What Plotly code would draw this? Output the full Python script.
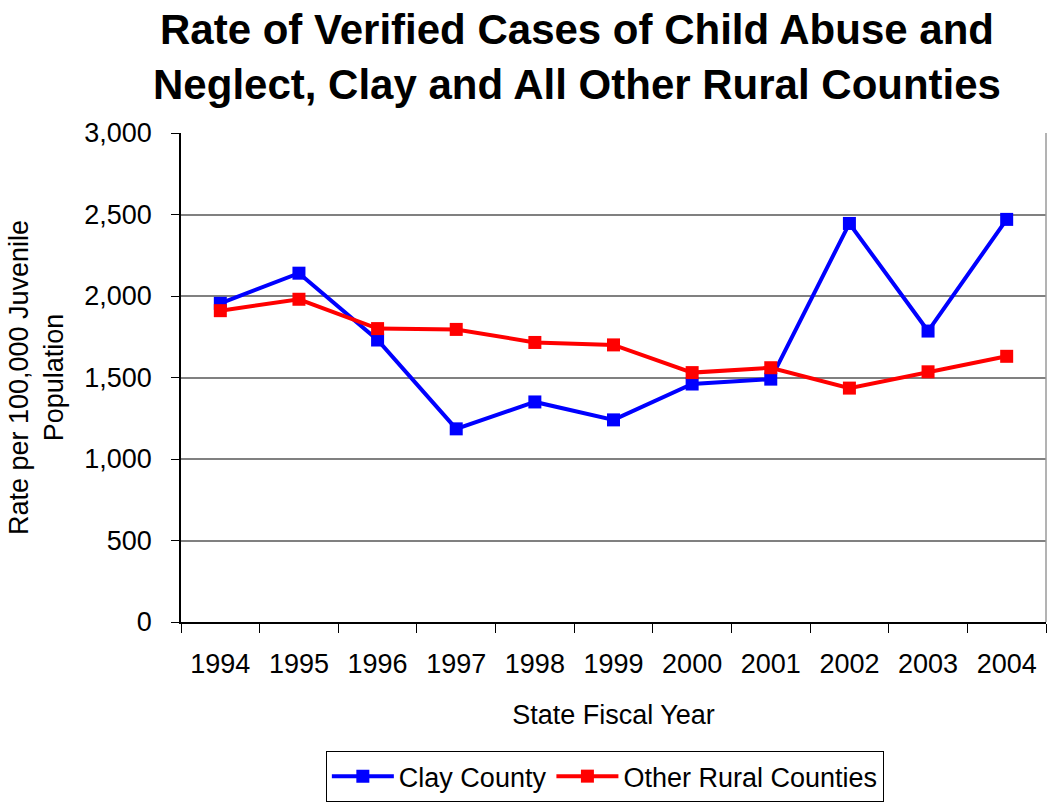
import plotly.graph_objects as go

years = ["1994", "1995", "1996", "1997", "1998", "1999", "2000", "2001", "2002", "2003", "2004"]
clay_county = [1955, 2140, 1730, 1185, 1350, 1240, 1460, 1490, 2445, 1785, 2470]
other_rural = [1910, 1980, 1800, 1795, 1715, 1700, 1530, 1560, 1435, 1535, 1630]
y_ticks = [0, 500, 1000, 1500, 2000, 2500, 3000]

FONT = "Liberation Sans, Arial, sans-serif"
TXT = 27

fig = go.Figure()
fig.add_trace(go.Scatter(
    x=years, y=clay_county, name="Clay County", mode="lines+markers",
    line=dict(color="#0000FF", width=4),
    marker=dict(symbol="square", size=13, color="#0000FF"),
))
fig.add_trace(go.Scatter(
    x=years, y=other_rural, name="Other Rural Counties", mode="lines+markers",
    line=dict(color="#FF0000", width=4),
    marker=dict(symbol="square", size=13, color="#FF0000"),
))

# right-hand border of the plotting area
fig.add_shape(type="line", xref="paper", yref="paper", x0=1, x1=1, y0=0, y1=1,
              line=dict(color="#9a9a9a", width=1.5))

fig.update_layout(
    width=1047, height=803,
    margin=dict(l=181, r=1, t=133, b=181),
    paper_bgcolor="white", plot_bgcolor="white",
    font=dict(family=FONT, color="black", size=TXT),
    title=dict(
        text="<b>Rate of Verified Cases of Child Abuse and<br>Neglect, Clay and All Other Rural Counties</b>",
        x=577 / 1047, xanchor="center", xref="container",
        y=1 - 44 / 803, yanchor="middle", yref="container",
        font=dict(family=FONT, size=42, color="black"),
    ),
    showlegend=True,
    legend=dict(
        orientation="h", x=0.49, xanchor="center", xref="paper",
        y=-0.264, yanchor="top", yref="paper",
        bordercolor="black", borderwidth=1,
        font=dict(family=FONT, size=TXT, color="black"),
        itemwidth=62, tracegroupgap=0,
    ),
)

fig.update_xaxes(
    type="category", range=[-0.5, 10.5], automargin=False,
    showline=True, linecolor="black", linewidth=1.5,
    ticks="outside", tickson="boundaries", ticklen=9, tickcolor="black", tickwidth=1,
    showgrid=False, ticklabelstandoff=17,
    tickfont=dict(family=FONT, size=TXT, color="black"),
    title=dict(text="State Fiscal Year", standoff=27,
               font=dict(family=FONT, size=TXT, color="black")),
)
fig.update_yaxes(
    range=[0, 3000], tickvals=y_ticks, tickformat=",d", automargin=False,
    showline=True, linecolor="black", linewidth=1.5,
    ticks="outside", ticklen=8, tickcolor="black", tickwidth=1,
    showgrid=True, gridcolor="#808080", gridwidth=1.5,
    zeroline=False, ticklabelstandoff=14,
    tickfont=dict(family=FONT, size=TXT, color="black"),
    title=dict(text="Rate per 100,000 Juvenile<br>Population", standoff=13,
               font=dict(family=FONT, size=TXT, color="black")),
)

fig.write_html("out.html")
